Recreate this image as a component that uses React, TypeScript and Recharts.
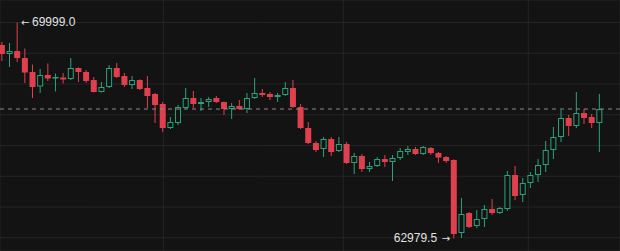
import { ComposedChart, Bar, XAxis, YAxis, CartesianGrid, ReferenceLine, ReferenceDot } from 'recharts';

const opens = [
  69269, 68976, 69073, 68846, 68391, 67919, 68293, 68195, 68212, 68163,
  68521, 68391, 68130, 67740, 67903, 68521, 68260, 67968, 68130, 67870,
  67675, 67350, 66570, 66732, 67220, 67545, 67350, 67415, 67545, 67415,
  67187, 67285, 67187, 67545, 67708, 67675, 67578, 67643, 67870, 67252,
  66570, 66082, 65887, 66212, 65822, 66049, 65431, 65659, 65236, 65334,
  65561, 65464, 65594, 65789, 65887, 65724, 65919, 65756, 65626, 65529,
  63155, 63805, 63382, 63610, 63935, 63805, 63935, 65041, 64391, 64781,
  65041, 65366, 65854, 66277, 66895, 66635, 67057, 66927, 66732,
];
const highs = [
  69366, 69334, 69999, 69155, 68634, 68488, 68667, 68342, 68358, 68846,
  68540, 68456, 68228, 68065, 68618, 68683, 68358, 68260, 68150, 68260,
  67708, 67415, 66927, 67317, 67870, 67773, 67545, 67578, 67610, 67430,
  67383, 67480, 67708, 68195, 67838, 67740, 67708, 68065, 68130, 67350,
  66765, 66147, 66277, 66277, 66277, 66114, 65756, 65724, 65464, 65626,
  65691, 65691, 65919, 65984, 65951, 65984, 65951, 65789, 65659, 65550,
  64293, 63838, 63903, 64065, 64261, 64000, 65171, 65334, 64943, 65139,
  65561, 66147, 66602, 67155, 66992, 67740, 67187, 67025, 67675,
];
const lows = [
  68748, 68553, 68716, 68033, 67545, 67708, 68098, 67756, 68017, 68130,
  68065, 68033, 67724, 67724, 67870, 68195, 67903, 67838, 67805, 67220,
  66732, 66439, 66537, 66667, 67204, 67220, 67122, 67252, 67383, 66992,
  66862, 67155, 67057, 67513, 67578, 67480, 67415, 67610, 67220, 66537,
  66049, 65789, 65626, 65659, 65789, 65399, 65074, 65139, 65139, 65301,
  65301, 64846, 65529, 65691, 65691, 65691, 65691, 65431, 65431, 62979.5,
  62992, 63317, 63317, 63350, 63740, 63773, 63870, 64228, 64163, 64618,
  64813, 65139, 65561, 66114, 66309, 66570, 66700, 66570, 65789,
];
const closes = [
  68976, 69073, 68846, 68374, 67903, 68293, 68179, 68228, 68147, 68521,
  68391, 68098, 67740, 67903, 68521, 68228, 67968, 68130, 67838, 67610,
  67317, 66570, 66765, 67252, 67545, 67350, 67415, 67513, 67415, 67187,
  67285, 67187, 67545, 67708, 67643, 67578, 67643, 67870, 67252, 66570,
  66082, 65854, 66212, 65789, 66049, 65431, 65659, 65236, 65334, 65561,
  65464, 65594, 65822, 65887, 65724, 65951, 65756, 65610, 65496, 63122,
  63773, 63350, 63610, 63935, 63805, 63968, 65041, 64358, 64781, 65041,
  65366, 65854, 66277, 66895, 66635, 67057, 66895, 66732, 67187,
];

// horizontal grid every 1000, vertical grid at session breaks (candle index)
const priceTicks = [63000, 64000, 65000, 66000, 67000, 68000, 69000, 70000];
const sessionTicks = [21.1, 44.6, 68.75];

const UP = '#2aa37c';
const DOWN = '#e0404d';
const BG = '#131313';
const LABEL_FONT = "'Liberation Sans', Arial, sans-serif";
const ARROW_FONT = "'DejaVu Sans', sans-serif";

const data = opens.map((o, i) => ({
  i,
  open: o,
  high: highs[i],
  low: lows[i],
  close: closes[i],
  range: [lows[i], highs[i]],
}));

const maxIdx = highs.indexOf(Math.max(...highs));
const minIdx = lows.indexOf(Math.min(...lows));
const lastClose = closes[closes.length - 1];

const Candle = (props: any) => {
  const { x, y, width, height, payload } = props;
  const { open, close, high, low } = payload;
  const up = close >= open;
  const color = up ? UP : DOWN;
  const h = Math.abs(height);
  const ratio = h / (high - low || 1);
  const yOf = (v: number) => y + (high - v) * ratio;
  const cx = x + width / 2;
  const top = yOf(Math.max(open, close));
  const bot = yOf(Math.min(open, close));
  const bh = Math.max(1, bot - top);

  if (up) {
    return (
      <g>
        <line x1={cx} x2={cx} y1={yOf(high)} y2={top} stroke={color} strokeWidth={1} />
        <line x1={cx} x2={cx} y1={top + bh} y2={yOf(low)} stroke={color} strokeWidth={1} />
        <rect x={cx - 2.5} y={top + 0.5} width={5} height={Math.max(bh - 1, 0.5)} fill={BG} stroke={color} strokeWidth={1} />
      </g>
    );
  }
  return (
    <g>
      <line x1={cx} x2={cx} y1={yOf(high)} y2={yOf(low)} stroke={color} strokeWidth={1} />
      <rect x={cx - 3} y={top} width={6} height={bh} fill={color} />
    </g>
  );
};

const HighLabel = (p: any) => (
  <g fill="#e2e2e2" fontSize={12}>
    <text x={p.cx + 4} y={p.cy - 0.5} dominantBaseline="central" fontFamily={ARROW_FONT} fontSize={10}>←</text>
    <text x={p.cx + 15} y={p.cy - 0.5} dominantBaseline="central" fontFamily={LABEL_FONT}>
      {highs[maxIdx].toFixed(1)}
    </text>
  </g>
);

const LowLabel = (p: any) => (
  <g fill="#e2e2e2" fontSize={12}>
    <text x={p.cx - 16.5} y={p.cy} dominantBaseline="central" textAnchor="end" fontFamily={LABEL_FONT}>
      {lows[minIdx].toFixed(1)}
    </text>
    <text x={p.cx - 3.5} y={p.cy} dominantBaseline="central" textAnchor="end" fontFamily={ARROW_FONT} fontSize={10}>→</text>
  </g>
);

export default function App() {
  return (
    <div style={{ position: 'fixed', left: 0, top: 0, width: 620, height: 251, background: BG, overflow: 'hidden' }}>
      <ComposedChart width={620} height={251} data={data} margin={{ top: 0, right: 0, bottom: 0, left: 0 }}>
        <CartesianGrid stroke="#252525" />
        <XAxis dataKey="i" type="number" domain={[-0.22, 80.72]} ticks={sessionTicks} hide />
        <YAxis type="number" domain={[62570, 70732]} ticks={priceTicks} hide />
        <ReferenceLine y={lastClose} stroke="#8c8c8c" strokeDasharray="4 4" />
        <Bar dataKey="range" barSize={6} shape={Candle} isAnimationActive={false} />
        <ReferenceDot x={maxIdx} y={highs[maxIdx]} r={0} shape={HighLabel} />
        <ReferenceDot x={minIdx} y={lows[minIdx]} r={0} shape={LowLabel} />
      </ComposedChart>
    </div>
  );
}
